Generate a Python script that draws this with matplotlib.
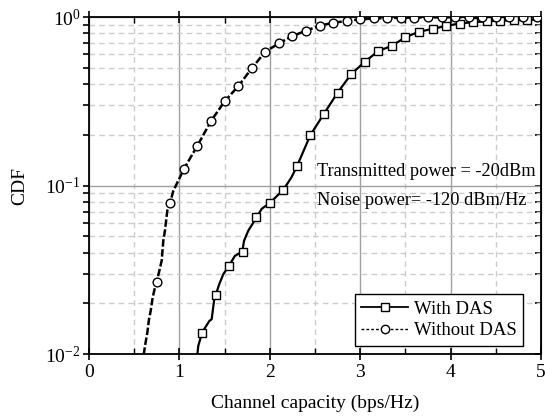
import matplotlib
matplotlib.use('Agg')
import matplotlib.pyplot as plt
from matplotlib.lines import Line2D
from matplotlib.ticker import LogLocator, MultipleLocator, NullFormatter

plt.rcParams['font.family'] = ['Liberation Serif', 'DejaVu Serif']
plt.rcParams['mathtext.fontset'] = 'stix'

# CDF trace with DAS
das_x = [1.198, 1.209, 1.253, 1.331, 1.357, 1.383, 1.401, 1.441, 1.486, 1.552, 1.615,
         1.696, 1.715, 1.762, 1.855, 1.91, 2.0, 2.15, 2.24, 2.3, 2.45, 2.6, 2.75, 2.9,
         3.05, 3.2, 3.35, 3.5, 3.65, 3.8, 3.95, 4.1, 4.25, 4.4, 4.55, 4.7, 4.85, 5.0]
das_y = [0.0099, 0.0112, 0.0135, 0.0157, 0.0161, 0.0207, 0.0224, 0.026, 0.0298, 0.0337, 0.0383,
         0.0405, 0.047, 0.054, 0.0648, 0.0727, 0.0789, 0.0943, 0.112, 0.130, 0.200, 0.267, 0.356, 0.458,
         0.542, 0.628, 0.675, 0.758, 0.818, 0.85, 0.886, 0.915, 0.932, 0.942, 0.951, 0.956, 0.962, 0.966]
das_mx = [1.25, 1.4, 1.55, 1.7, 1.85, 2.0, 2.15, 2.3, 2.45, 2.6, 2.75, 2.9, 3.05, 3.2,
          3.35, 3.5, 3.65, 3.8, 3.95, 4.1, 4.25, 4.4, 4.55, 4.7, 4.85]
das_my = [0.0134, 0.0224, 0.0335, 0.0405, 0.0651, 0.0789, 0.0943, 0.130, 0.200, 0.267, 0.356, 0.458, 0.542, 0.628,
          0.675, 0.758, 0.818, 0.85, 0.886, 0.915, 0.932, 0.942, 0.951, 0.956, 0.962]

# CDF trace without DAS
nodas_x = [0.605, 0.62, 0.645, 0.664, 0.682, 0.704, 0.73, 0.749, 0.778, 0.804, 0.822, 0.84,
           0.866, 0.896, 0.933, 0.988, 1.051, 1.198, 1.35, 1.5, 1.65, 1.8, 1.95, 2.1, 2.25,
           2.4, 2.55, 2.7, 2.85, 3.0, 3.15, 3.3, 3.45, 3.6, 3.75, 3.9, 4.05, 4.2, 4.5, 5.0]
nodas_y = [0.0099, 0.0112, 0.0134, 0.0161, 0.018, 0.0216, 0.0249, 0.0269, 0.0312, 0.0358, 0.047, 0.054,
           0.071, 0.0787, 0.093, 0.107, 0.1257, 0.172, 0.2415, 0.316, 0.388, 0.4956, 0.623, 0.697, 0.771,
           0.829, 0.888, 0.925, 0.947, 0.969, 0.98, 0.987, 0.99, 0.993, 0.995, 0.996, 0.997, 0.998, 0.999, 1.0]
nodas_mx = [0.75, 0.9, 1.05, 1.2, 1.35, 1.5, 1.65, 1.8, 1.95, 2.1, 2.25, 2.4, 2.55, 2.7, 2.85,
            3.0, 3.15, 3.3, 3.45, 3.6, 3.75, 3.9, 4.05, 4.2, 4.35, 4.5, 4.65, 4.8, 4.95]
nodas_my = [0.0269, 0.0787, 0.1257, 0.172, 0.2415, 0.316, 0.388, 0.4956, 0.623, 0.697, 0.771, 0.829, 0.888, 0.925, 0.947,
            0.969, 0.98, 0.987, 0.99, 0.993, 0.995, 0.996, 0.997, 0.998, 0.998, 0.999, 0.999, 1.0, 1.0]

fig = plt.figure(figsize=(5.45, 4.19), dpi=100)
ax = fig.add_axes([0.1633, 0.155, 0.8294, 0.8044])

ax.set_yscale('log')
ax.set_xlim(0, 5)
ax.set_ylim(0.01, 1)

ax.xaxis.set_major_locator(MultipleLocator(1))
ax.xaxis.set_minor_locator(MultipleLocator(0.5))
ax.yaxis.set_major_locator(LogLocator(base=10))
ax.yaxis.set_minor_locator(LogLocator(base=10, subs=range(2, 10)))
ax.yaxis.set_minor_formatter(NullFormatter())

ax.grid(True, which='major', color='#a0a0a0', linewidth=1.0, linestyle='-')
ax.grid(True, which='minor', color='#cccccc', linewidth=1.0, linestyle=(0, (4, 3)))
ax.set_axisbelow(True)

ax.plot(das_x, das_y, color='black', linewidth=1.6, zorder=3)
ax.plot(das_mx, das_my, linestyle='none', marker='s', markersize=6, markerfacecolor='white',
        markeredgecolor='black', markeredgewidth=1.0, zorder=4)
ax.plot(nodas_x, nodas_y, color='black', linewidth=1.8, dashes=(3, 1), zorder=3)
ax.plot(nodas_mx, nodas_my, linestyle='none', marker='o', markersize=6.3, markerfacecolor='white',
        markeredgecolor='black', markeredgewidth=1.0, zorder=4)

for s in ax.spines.values():
    s.set_linewidth(1.3)

ax.tick_params(which='major', axis='x', direction='inout', length=8, width=1.2, top=True,
               labelsize=14, pad=3)
ax.tick_params(which='minor', axis='x', direction='in', length=4, width=1.0, top=True)
ax.tick_params(which='both', axis='y', direction='out', length=4, width=1.2,
               labelsize=14, pad=2)
# inward ticks on the right spine
ax.tick_params(which='both', axis='y', right=True)
sec = ax.secondary_yaxis('right')
sec.tick_params(which='both', direction='in', length=4, width=1.2, labelright=False)
sec.yaxis.set_minor_formatter(NullFormatter())
ax.tick_params(which='both', axis='y', right=False)

ax.set_xlabel('Channel capacity (bps/Hz)', fontsize=14, labelpad=10)
ax.set_ylabel('CDF', fontsize=14, labelpad=12)

ax.text(0.505, 0.541, 'Transmitted power = -20dBm', transform=ax.transAxes, fontsize=13.2,
        va='center', ha='left', zorder=5)
ax.text(0.505, 0.457, 'Noise power= -120 dBm/Hz', transform=ax.transAxes, fontsize=13.2,
        va='center', ha='left', zorder=5)

handles = [
    Line2D([0], [0], color='black', linewidth=1.3, marker='s', markersize=6,
           markerfacecolor='white', markeredgecolor='black'),
    Line2D([0], [0], color='black', linewidth=1.0, dashes=(2, 1.5), marker='o', markersize=6,
           markerfacecolor='white', markeredgecolor='black'),
]
leg = ax.legend(handles, ['With DAS', 'Without DAS'], loc='lower right',
                bbox_to_anchor=(0.96, 0.024), borderaxespad=0, fontsize=13.5, frameon=True,
                fancybox=False, edgecolor='black', framealpha=1, handlelength=2.5,
                handletextpad=0.3, borderpad=0.35, labelspacing=0.25)
leg.get_frame().set_linewidth(1.0)

fig.savefig('out.png', dpi=100)
